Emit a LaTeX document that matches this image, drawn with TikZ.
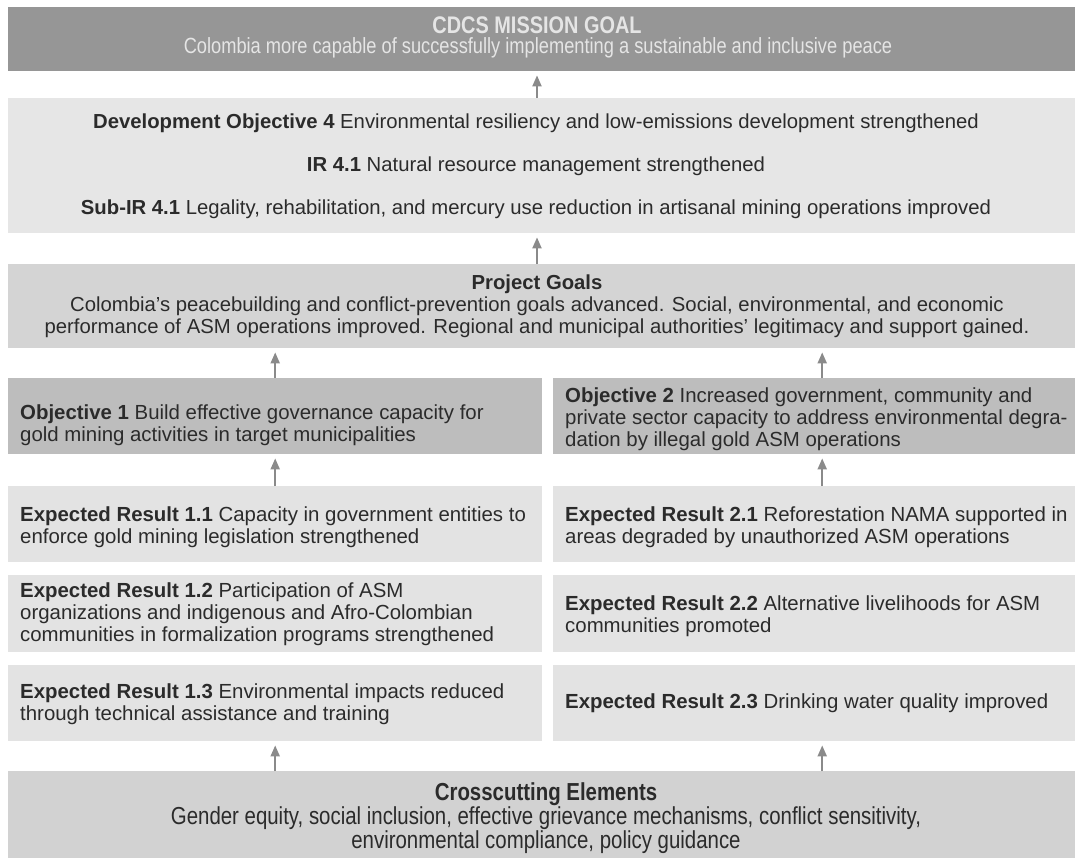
\documentclass[tikz,border=0pt]{standalone}
\usepackage{fontspec}
\setmainfont{Liberation Sans}
\newfontfamily\narrowfont[FakeStretch=0.83]{Liberation Sans}
\usetikzlibrary{arrows.meta}
\definecolor{missionC}{HTML}{969696}
\definecolor{devC}{HTML}{E6E6E6}
\definecolor{goalC}{HTML}{D4D4D4}
\definecolor{objC}{HTML}{BDBDBD}
\definecolor{resC}{HTML}{E3E3E3}
\definecolor{crossC}{HTML}{D2D2D2}
\definecolor{txtC}{HTML}{2B2B2B}
\definecolor{arrC}{HTML}{8A8A8A}
\tikzset{
    BOX/.style ={rectangle, anchor=north west, inner sep=0pt, fill=#1},
    TXL/.style ={anchor=west, align=left, inner sep=0pt, text=txtC, font=\fontsize{20.4}{22}\selectfont},
    TXC/.style ={align=center, inner sep=0pt, text=txtC, font=\fontsize{20.3}{22}\selectfont},
    NAR/.style ={align=center, inner sep=0pt, font=\narrowfont\fontsize{#1}{22}\selectfont},
    AR/.style ={draw=arrC, line width=2pt, -{Triangle[length=11pt,width=9pt]}, shorten >=4pt}}

\begin{document}
\begin{tikzpicture}[x=1pt,y=-1pt]
        \path[use as bounding box, clip] (0,0) rectangle (1075,858);
        % boxes
        \node[BOX=missionC, minimum width=1083pt, minimum height=64pt] (mis) at (8,7) {};
        \node[BOX=devC, minimum width=1083pt, minimum height=135pt] (dev) at (8,98) {};
        \node[BOX=goalC, minimum width=1083pt, minimum height=84pt] (pg) at (8,264) {};
        \node[BOX=objC, minimum width=534pt, minimum height=76pt] (o1) at (8,378) {};
        \node[BOX=objC, minimum width=538pt, minimum height=76pt] (o2) at (553,378) {};
        \node[BOX=resC, minimum width=534pt, minimum height=76pt] (r11) at (8,486) {};
        \node[BOX=resC, minimum width=534pt, minimum height=77pt] (r12) at (8,575) {};
        \node[BOX=resC, minimum width=534pt, minimum height=76pt] (r13) at (8,665) {};
        \node[BOX=resC, minimum width=538pt, minimum height=76pt] (r21) at (553,486) {};
        \node[BOX=resC, minimum width=538pt, minimum height=77pt] (r22) at (553,575) {};
        \node[BOX=resC, minimum width=538pt, minimum height=76pt] (r23) at (553,665) {};
        \node[BOX=crossC, minimum width=1083pt, minimum height=100pt] (cc) at (8,771) {};
        % texts
        \node[NAR=24, text=white!90!black] (mist) at (537,25) {\bfseries CDCS MISSION GOAL};
        \node[NAR=22, text=white!90!black] (miss) at (538,48) {Colombia more capable of successfully implementing a sustainable and inclusive peace};
        \node[TXC] (devt) at (536,123) {\textbf{Development Objective 4} Environmental resiliency and low-emissions development strengthened};
        \node[TXC] (irt) at (536,166) {\textbf{IR 4.1} Natural resource management strengthened};
        \node[TXC] (subt) at (536,209) {\textbf{Sub-IR 4.1} Legality, rehabilitation, and mercury use reduction in artisanal mining operations improved};
        \node[TXC] (pgt) at (537,306) {\textbf{Project Goals}\\Colombia's peacebuilding and conflict-prevention goals advanced. Social, environmental, and economic\\performance of ASM operations improved. Regional and municipal authorities' legitimacy and support gained.};
        \node[TXL] (o1t) at ([xshift=12pt,yshift=-9pt]o1.west) {\textbf{Objective 1} Build effective governance capacity for\\gold mining activities in target municipalities};
        \node[TXL] (o2t) at ([xshift=12pt,yshift=-3pt]o2.west) {\textbf{Objective 2} Increased government, community and\\private sector capacity to address environmental degra-\\dation by illegal gold ASM operations};
        \node[TXL] (r11t) at ([xshift=12pt,yshift=-3pt]r11.west) {\textbf{Expected Result 1.1} Capacity in government entities to\\enforce gold mining legislation strengthened};
        \node[TXL] (r12t) at ([xshift=12pt,yshift=-1pt]r12.west) {\textbf{Expected Result 1.2} Participation of ASM\\organizations and indigenous and Afro-Colombian\\communities in formalization programs strengthened};
        \node[TXL] (r13t) at ([xshift=12pt,yshift=-1pt]r13.west) {\textbf{Expected Result 1.3} Environmental impacts reduced\\through technical assistance and training};
        \node[TXL] (r21t) at ([xshift=12pt,yshift=-3pt]r21.west) {\textbf{Expected Result 2.1} Reforestation NAMA supported in\\areas degraded by unauthorized ASM operations};
        \node[TXL] (r22t) at ([xshift=12pt,yshift=-3pt]r22.west) {\textbf{Expected Result 2.2} Alternative livelihoods for ASM\\communities promoted};
        \node[TXL] (r23t) at ([xshift=12pt]r23.west) {\textbf{Expected Result 2.3} Drinking water quality improved};
        \node[NAR=24.6, text=txtC] (cct) at (546,818) {\textbf{Crosscutting Elements}\\Gender equity, social inclusion, effective grievance mechanisms, conflict sensitivity,\\environmental compliance, policy guidance};
        % arrows
        \coordinate (mid) at (537,0);
        \draw[AR] (dev.north -| mid) -- (mis.south -| mid);
        \draw[AR] (pg.north -| mid) -- (dev.south -| mid);
        \draw[AR] (o1.north) -- (pg.south -| o1.north);
        \draw[AR] (o2.north) -- (pg.south -| o2.north);
        \draw[AR] (r11.north) -- (o1.south);
        \draw[AR] (r21.north) -- (o2.south);
        \draw[AR] (cc.north -| r13.south) -- (r13.south);
        \draw[AR] (cc.north -| r23.south) -- (r23.south);
\end{tikzpicture}
\end{document}
